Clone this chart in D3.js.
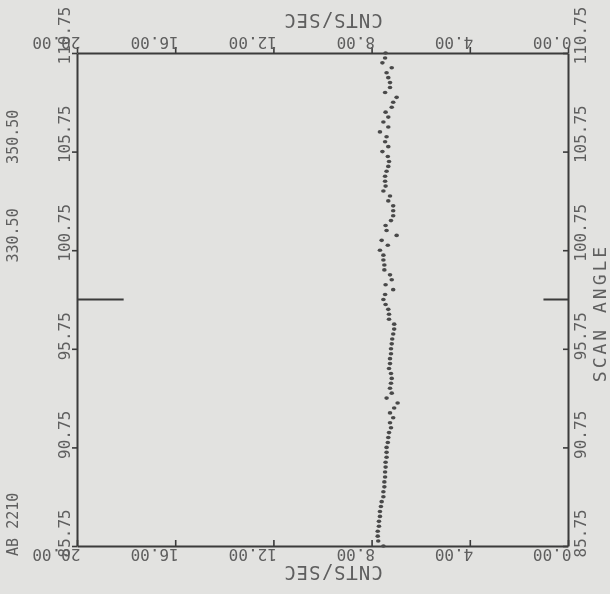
<!DOCTYPE html>
<html>
<head>
  <title>Scan Angle vs Counts</title>
  <style>
    body {
      margin: 0;
      background: #e2e2e0;
    }
    svg text {
      font-family: "DejaVu Sans Mono", monospace;
      fill: #5e5e5e;
    }
  </style>
</head>
<body>
  <svg id="chart" width="610" height="594"></svg>

  <script src="https://d3js.org/d3.v7.min.js"></script>
  <script>
    // Tick values
    const countTicks = [0, 4, 8, 12, 16, 20];
    const angleTicks = [85.75, 90.75, 95.75, 100.75, 105.75, 110.75];

    // Scan angles, 0.25 deg steps from 85.75 to 110.75
    const angles = d3.range(101).map(i => 85.75 + i * 0.25);

    // Counts per second (bottom to top)
    const counts = [
      7.52, 7.73, 7.75, 7.75, 7.70, 7.70, 7.66, 7.66, 7.62, 7.59,
      7.52, 7.52, 7.48, 7.48, 7.45, 7.45, 7.43, 7.43, 7.39, 7.39,
      7.39, 7.34, 7.32, 7.29, 7.21,
      7.25, 7.12, 7.25, 7.08, 6.94, 7.39, 7.18, 7.25, 7.21, 7.18,
      7.21, 7.29, 7.25, 7.25, 7.21, 7.21, 7.18, 7.16, 7.12, 7.08,
      7.08, 7.29, 7.29, 7.32, 7.43,
      7.52, 7.45, 7.12, 7.43, 7.18, 7.25, 7.48, 7.48, 7.52, 7.52,
      7.66, 7.34, 7.59, 6.98, 7.39, 7.43, 7.21, 7.12, 7.12, 7.12,
      7.32, 7.25, 7.52, 7.43, 7.45,
      7.45, 7.39, 7.32, 7.29, 7.34, 7.56, 7.32, 7.45, 7.39, 7.66,
      7.32, 7.52, 7.32, 7.43, 7.18, 7.12, 6.98, 7.45, 7.25, 7.25,
      7.32, 7.39, 7.18, 7.56, 7.45, 7.43
    ];

    // Cursor mark on both sides
    const markerAngle = 98.25;
    const markerLeft = [20, 18.1];
    const markerRight = [0, 1.0];

    // Side annotations
    const sideNotes = ["350.50", "330.50", "AB 2210"];
    const sideNoteAngles = [106.5, 101.5, 86.85];

    const svg = d3.select("#chart");

    const plotLeft = 77, plotRight = 568, plotTop = 53, plotBottom = 546;
    const x = d3.scaleLinear().domain([0, 20]).range([plotRight, plotLeft]);
    const y = d3.scaleLinear().domain([85.75, 110.75]).range([plotBottom, plotTop]);

    const lineColor = "#3a3a3a";
    const fmt = d3.format(".2f");

    // soft scan look
    const defs = svg.append("defs");
    defs.append("filter").attr("id", "soft")
      .append("feGaussianBlur").attr("stdDeviation", 0.55);

    const g = svg.append("g").attr("filter", "url(#soft)");

    function styleAxis(sel) {
      sel.selectAll("path.domain").attr("stroke", lineColor).attr("stroke-width", 2);
      sel.selectAll(".tick line").attr("stroke", lineColor).attr("stroke-width", 1.6);
      sel.selectAll(".tick text")
        .attr("fill", "#5e5e5e")
        .style("font-size", "16px")
        .attr("dy", null);
    }

    // Top axis: upside-down labels
    const topAxis = g.append("g")
      .attr("transform", `translate(0,${plotTop})`)
      .call(d3.axisTop(x).tickValues(countTicks).tickFormat(fmt).tickSize(6).tickSizeOuter(0));
    styleAxis(topAxis);
    topAxis.selectAll(".tick text")
      .attr("x", 3).attr("y", -16)
      .attr("text-anchor", "start")
      .attr("transform", "rotate(180,3,-16)");

    // Bottom axis: ticks point into the plot, labels upside-down
    const bottomAxis = g.append("g")
      .attr("transform", `translate(0,${plotBottom})`)
      .call(d3.axisTop(x).tickValues(countTicks).tickFormat(fmt).tickSize(6).tickSizeOuter(0));
    styleAxis(bottomAxis);
    bottomAxis.selectAll(".tick text")
      .attr("x", 3).attr("y", 3)
      .attr("text-anchor", "start")
      .attr("transform", "rotate(180,3,3)");

    // Left axis
    const leftAxis = g.append("g")
      .attr("transform", `translate(${plotLeft},0)`)
      .call(d3.axisLeft(y).tickValues(angleTicks).tickFormat(fmt).tickSize(5).tickSizeOuter(0));
    styleAxis(leftAxis);
    leftAxis.selectAll(".tick text")
      .attr("x", -7).attr("y", 11)
      .attr("text-anchor", "start")
      .attr("transform", "rotate(-90,-7,11)");

    // Right axis: ticks point into the plot
    const rightAxis = g.append("g")
      .attr("transform", `translate(${plotRight},0)`)
      .call(d3.axisLeft(y).tickValues(angleTicks).tickFormat(fmt).tickSize(5).tickSizeOuter(0));
    styleAxis(rightAxis);
    rightAxis.selectAll(".tick text")
      .attr("x", 18).attr("y", 11)
      .attr("text-anchor", "start")
      .attr("transform", "rotate(-90,18,11)");

    // Axis titles
    g.append("text")
      .attr("transform", `translate(333,14) rotate(180)`)
      .attr("text-anchor", "middle")
      .style("font-size", "19px")
      .style("letter-spacing", "1px")
      .text("CNTS/SEC");

    g.append("text")
      .attr("transform", `translate(333,566) rotate(180)`)
      .attr("text-anchor", "middle")
      .style("font-size", "19px")
      .style("letter-spacing", "1px")
      .text("CNTS/SEC");

    g.append("text")
      .attr("transform", `translate(606,313) rotate(-90)`)
      .attr("text-anchor", "middle")
      .style("font-size", "18px")
      .style("letter-spacing", "3px")
      .text("SCAN ANGLE");

    // Side notes
    g.selectAll("text.note")
      .data(sideNotes)
      .enter().append("text")
      .attr("class", "note")
      .attr("transform", (d, i) => `translate(18,${y(sideNoteAngles[i])}) rotate(-90)`)
      .attr("text-anchor", "middle")
      .style("font-size", "15px")
      .text(d => d);

    // Cursor marks
    g.append("line")
      .attr("x1", x(markerLeft[0])).attr("x2", x(markerLeft[1]))
      .attr("y1", y(markerAngle)).attr("y2", y(markerAngle))
      .attr("stroke", lineColor).attr("stroke-width", 2);
    g.append("line")
      .attr("x1", x(markerRight[0])).attr("x2", x(markerRight[1]))
      .attr("y1", y(markerAngle)).attr("y2", y(markerAngle))
      .attr("stroke", lineColor).attr("stroke-width", 2);

    // Data points
    g.selectAll("ellipse.pt")
      .data(angles)
      .enter().append("ellipse")
      .attr("class", "pt")
      .attr("cx", (d, i) => x(counts[i]))
      .attr("cy", d => y(d))
      .attr("rx", 2.3)
      .attr("ry", 1.8)
      .attr("fill", "#4a4a4a");
  </script>
</body>
</html>
